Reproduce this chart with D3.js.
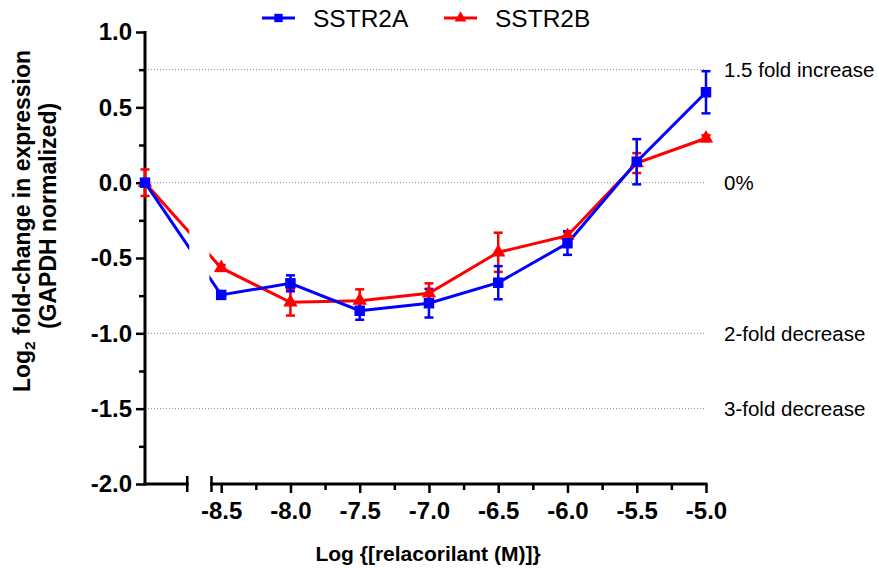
<!DOCTYPE html>
<html>
<head>
<meta charset="utf-8">
<script src="https://cdn.jsdelivr.net/npm/d3@7"></script>
<style>
body{margin:0;background:#fff}
text{font-family:"Liberation Sans",Arial,Helvetica,sans-serif}
</style>
</head>
<body>
<div id="chart"></div>
<script>
// control (vehicle) sits left of the axis break, at the start of the x domain
const controlDose = -9.05
const doses = [controlDose, -8.5, -8.0, -7.5, -7.0, -6.5, -6.0, -5.5, -5.0]
const sstr2a = [0.0, -0.745, -0.668, -0.85, -0.80, -0.664, -0.402, 0.139, 0.60]
const sstr2aErr = [0.0, 0.02, 0.053, 0.06, 0.095, 0.11, 0.077, 0.15, 0.14]
const sstr2b = [0.0, -0.566, -0.794, -0.783, -0.734, -0.462, -0.352, 0.13, 0.295]
const sstr2bErr = [0.088, 0.02, 0.088, 0.075, 0.066, 0.13, 0.03, 0.066, 0.02]
const xMajor = [-8.5, -8.0, -7.5, -7.0, -6.5, -6.0, -5.5, -5.0]
const xMinor = [-8.25, -7.75, -7.25, -6.75, -6.25, -5.75, -5.25]
const yMajor = [1.0, 0.5, 0.0, -0.5, -1.0, -1.5, -2.0]
const yMinor = [0.75, 0.25, -0.25, -0.75, -1.25, -1.75]
const refValues = [0.75, 0.0, -1.0, -1.5]
const refLabels = ["1.5 fold increase", "0%", "2-fold decrease", "3-fold decrease"]
const breakLo = -8.745, breakHi = -8.57

const W = 878, H = 568
const x = d3.scaleLinear().domain([controlDose, -5.0]).range([145, 706])
const y = d3.scaleLinear().domain([-2.0, 1.0]).range([484, 32])

const svg = d3.select("#chart").append("svg").attr("width", W).attr("height", H)

// clip so the series lines break with the axis
const clip = svg.append("defs").append("clipPath").attr("id","brk")
clip.append("rect").attr("x",0).attr("y",0).attr("width",x(breakLo)+2).attr("height",H)
clip.append("rect").attr("x",x(breakHi)-2).attr("y",0).attr("width",W).attr("height",H)

// reference lines + labels
svg.selectAll(".ref").data(refValues).enter().append("line")
   .attr("x1", x(controlDose)).attr("x2", x(-5.0))
   .attr("y1", d=>y(d)).attr("y2", d=>y(d))
   .attr("stroke","#888").attr("stroke-width",1).attr("stroke-dasharray","1,2")
svg.selectAll(".reflab").data(refValues).enter().append("text")
   .attr("x", 724).attr("y", d=>y(d)).attr("dy","0.35em")
   .attr("font-size", 20.5).text((d,i)=>refLabels[i])

// y axis
const yAxis = svg.append("g").attr("transform","translate(145,0)")
yAxis.call(d3.axisLeft(y).tickValues(yMajor).tickSize(9).tickPadding(4).tickFormat(d=>d.toFixed(1)))
yAxis.append("g").call(d3.axisLeft(y).tickValues(yMinor).tickSize(6).tickFormat(""))
yAxis.selectAll(".domain").remove()
yAxis.selectAll("line").attr("stroke","#000").attr("stroke-width",2.5)
yAxis.selectAll("text").attr("font-size",24).attr("font-weight","bold").attr("fill","#000")
svg.append("line").attr("x1",145).attr("x2",145).attr("y1",y(1.0)-1).attr("y2",y(-2.0)+1.5)
   .attr("stroke","#000").attr("stroke-width",3)

// x axis, two segments with break caps
const xAxis = svg.append("g").attr("transform","translate(0,484)")
xAxis.call(d3.axisBottom(x).tickValues(xMajor).tickSize(9).tickPadding(9).tickFormat(d=>d.toFixed(1)))
xAxis.append("g").call(d3.axisBottom(x).tickValues(xMinor).tickSize(6).tickFormat(""))
xAxis.selectAll(".domain").remove()
xAxis.selectAll("line").attr("stroke","#000").attr("stroke-width",2.5)
xAxis.selectAll("text").attr("font-size",24).attr("font-weight","bold").attr("fill","#000")
const segs = [[controlDose, breakLo], [breakHi, -5.0]]
svg.selectAll(".xseg").data(segs).enter().append("line")
   .attr("x1", d=>x(d[0])-1.5).attr("x2", d=>x(d[1])+1.5).attr("y1",484).attr("y2",484)
   .attr("stroke","#000").attr("stroke-width",3)
svg.selectAll(".cap").data([breakLo, breakHi]).enter().append("line")
   .attr("x1", d=>x(d)).attr("x2", d=>x(d)).attr("y1",476).attr("y2",492)
   .attr("stroke","#000").attr("stroke-width",2.5)

// axis titles
const yt = svg.append("text").attr("transform","translate(30,221) rotate(-90)")
   .attr("text-anchor","middle").attr("font-size",23).attr("font-weight","bold")
yt.append("tspan").text("Log")
yt.append("tspan").attr("font-size",15.5).attr("dy",5).text("2")
yt.append("tspan").attr("dy",-5).text(" fold-change in expression")
svg.append("text").attr("transform","translate(56,216) rotate(-90)")
   .attr("text-anchor","middle").attr("font-size",23).attr("font-weight","bold")
   .text("(GAPDH normalized)")
svg.append("text").attr("x",428).attr("y",561).attr("text-anchor","middle")
   .attr("font-size",21).attr("font-weight","bold").text("Log {[relacorilant (M)]}")

// series
const series = [
  {name:"SSTR2B", color:"#ff0000", vals:sstr2b, err:sstr2bErr, shape:d3.symbolTriangle},
  {name:"SSTR2A", color:"#0000ff", vals:sstr2a, err:sstr2aErr, shape:d3.symbolSquare}
]
const line = d3.line().x(d=>x(d[0])).y(d=>y(d[1]))

series.forEach(s=>{
  const g = svg.append("g")
  const pts = doses.map((d,i)=>[d, s.vals[i], s.err[i]]).filter(p=>p[2]>0)
  g.selectAll("line.eb").data(pts).enter().append("line")
   .attr("x1",d=>x(d[0])).attr("x2",d=>x(d[0]))
   .attr("y1",d=>y(d[1]+d[2])).attr("y2",d=>y(d[1]-d[2]))
   .attr("stroke",s.color).attr("stroke-width",2.5)
  ;[1,-1].forEach(sg=>{
    g.selectAll("line.c"+sg).data(pts).enter().append("line")
     .attr("x1",d=>x(d[0])-4.5).attr("x2",d=>x(d[0])+4.5)
     .attr("y1",d=>y(d[1]+sg*d[2])).attr("y2",d=>y(d[1]+sg*d[2]))
     .attr("stroke",s.color).attr("stroke-width",2.5)
  })
})
series.forEach(s=>{
  svg.append("path").datum(doses.map((d,i)=>[d, s.vals[i]]))
     .attr("d",line).attr("fill","none").attr("stroke",s.color).attr("stroke-width",3)
     .attr("clip-path","url(#brk)")
})
series.forEach(s=>{
  svg.selectAll(null).data(doses.map((d,i)=>[d, s.vals[i]])).enter().append("path")
     .attr("d", d3.symbol().type(s.shape).size(s.shape===d3.symbolSquare?110:90))
     .attr("transform", d=>`translate(${x(d[0])},${y(d[1])})`)
     .attr("fill", s.color)
})

// legend
const legend = [
  {name:"SSTR2A", color:"#0000ff", shape:d3.symbolSquare, x0:262},
  {name:"SSTR2B", color:"#ff0000", shape:d3.symbolTriangle, x0:444}
]
legend.forEach(l=>{
  svg.append("line").attr("x1",l.x0).attr("x2",l.x0+33).attr("y1",18).attr("y2",18)
     .attr("stroke",l.color).attr("stroke-width",3)
  svg.append("path").attr("d",d3.symbol().type(l.shape).size(l.shape===d3.symbolSquare?70:60))
     .attr("transform",`translate(${l.x0+16.5},18)`).attr("fill",l.color)
  svg.append("text").attr("x",l.x0+51).attr("y",27).attr("font-size",24.5).text(l.name)
})
</script>
</body>
</html>
